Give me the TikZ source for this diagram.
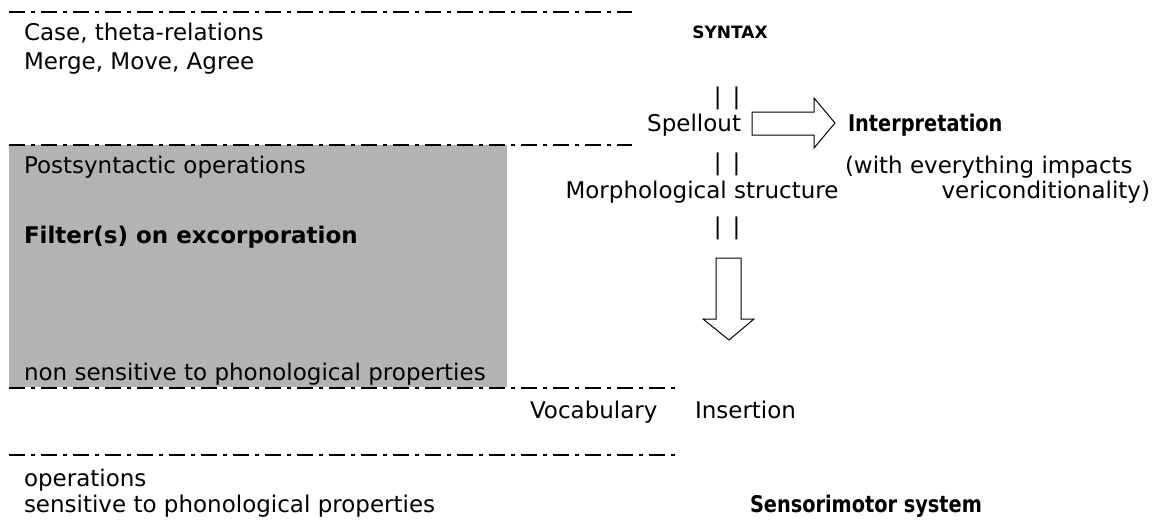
\documentclass[tikz,border=0pt]{standalone}
\usepackage{fontspec}
\setmainfont{DejaVu Sans}
\definecolor{boxgray}{RGB}{179,179,179}
\begin{document}
\begin{tikzpicture}[x=1pt,y=-1pt,
  txt/.style={inner sep=0pt,outer sep=0pt,font=\fontsize{23pt}{25pt}\selectfont},
  btxt/.style={txt,font=\fontsize{23pt}{25pt}\selectfont\bfseries},
  dashline/.style={line width=1.2pt,dash pattern=on 16pt off 6pt on 4pt off 6pt},
  blockarrow/.style={draw=black,line width=1pt,fill=white,line join=miter}]
\useasboundingbox (0,0) rectangle (1159,522);
% grey box
\fill[boxgray] (9,145) rectangle (507,387);
% dash-dot lines
\coordinate (l1a) at (9,12);   \coordinate (l1b) at (632,12);
\coordinate (l2a) at (9,145);  \coordinate (l2b) at (632,145);
\coordinate (l3a) at (9,388);  \coordinate (l3b) at (680,388);
\coordinate (l4a) at (9,455);  \coordinate (l4b) at (680,455);
\draw[dashline] (l1a) -- (l1b);
\draw[dashline] (l2a) -- (l2b);
\draw[dashline] (l3a) -- (l3b);
\draw[dashline] (l4a) -- (l4b);
% texts left
\node[txt,anchor=base west] (case) at (24,40) {Case, theta-relations};
\node[txt,anchor=base west] (merge) at (24,69) {Merge, Move, Agree};
\node[txt,anchor=base west] (post) at (24,173) {Postsyntactic operations};
\node[btxt,anchor=base west] (filter) at (24,243) {Filter(s) on excorporation};
\node[txt,anchor=base west] (nonsens) at (24,380) {non sensitive to phonological properties};
\node[txt,anchor=base west] (ops) at (24,486) {operations};
\node[txt,anchor=base west] (sens) at (24,512) {sensitive to phonological properties};
% centre column
\node[inner sep=0pt,anchor=base,font=\fontsize{17pt}{19pt}\selectfont\bfseries] (syntax) at (730,38) {SYNTAX};
\node[txt,anchor=base] (bars1) at (727,104) {|\hspace{11pt}|};
\node[txt,anchor=base east] (spell) at (741,131) {Spellout};
\node[txt,anchor=base] (bars2) at (727,170) {|\hspace{11pt}|};
\node[txt,anchor=base] (morph) at (702,198) {Morphological structure};
\node[txt,anchor=base] (bars3) at (727,234) {|\hspace{11pt}|};
\node[txt,anchor=base west] (vocab) at (530,418) {Vocabulary};
\node[txt,anchor=base west] (insert) at (695,418) {Insertion};
% right column
\node[btxt,anchor=base west] (interp) at (848,131) {\scalebox{0.84}[1]{Interpretation}};
\node[txt,anchor=base west] (with) at (845,173) {(with everything impacts};
\node[txt,anchor=base east] (veri) at (1150,198) {vericonditionality)};
\node[btxt,anchor=base west] (senso) at (750,512) {\scalebox{0.84}[1]{Sensorimotor system}};
% right block arrow
\draw[blockarrow] (752,112) -- (814,112) -- (814,98) -- (835,123) -- (814,148) -- (814,135) -- (752,135) -- cycle;
% down block arrow
\draw[blockarrow] (716,258) -- (741,258) -- (741,319) -- (754,319) -- (729,340) -- (703,319) -- (716,319) -- cycle;
\end{tikzpicture}
\end{document}
